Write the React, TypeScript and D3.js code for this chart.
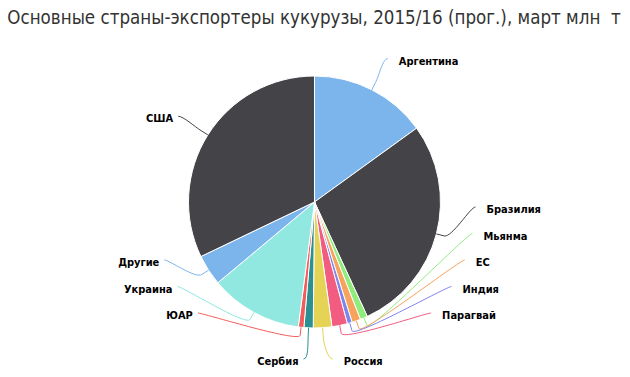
import React from "react";
import * as d3 from "d3";

const countries = ["Аргентина", "Бразилия", "Мьянма", "ЕС", "Индия", "Парагвай", "Россия", "Сербия", "ЮАР", "Украина", "Другие", "США"];
const exportsMt = [19, 35.5, 1.2, 1.4, 0.8, 2.5, 3, 1.5, 0.9, 15, 5, 40.6];
const palette = ["#7cb5ec", "#434348", "#90ed7d", "#f7a35c", "#8085e9", "#f15c80", "#e4d354", "#2b908f", "#f45b5b", "#91e8e1"];
const title = "Основные страны-экспортеры кукурузы, 2015/16 (прог.), март млн  т";

const W = 630;
const H = 377;
const cx = 314.5;
const cy = 202;
const R = 126;
const RL = 161;
const SPACING = 26.5;
const FONT = "'DejaVu Sans Condensed', 'DejaVu Sans', sans-serif";

export default function App() {
  const pie = d3.pie<number>().sort(null).value((d) => d).startAngle(0).endAngle(2 * Math.PI);
  const arcs = pie(exportsMt);
  const arcGen = d3.arc<d3.PieArcDatum<number>>().innerRadius(0).outerRadius(R);

  type Lab = { i: number; mid: number; right: boolean; bottom: boolean; ny: number; x: number; y: number; tx: number; ty: number; bx: number; by: number };
  const labs: Lab[] = arcs.map((a, i) => {
    const mid = (a.startAngle + a.endAngle) / 2;
    const tx = cx + R * Math.sin(mid);
    const ty = cy - R * Math.cos(mid);
    const bx = cx + (R + 8) * Math.sin(mid);
    const by = cy - (R + 8) * Math.cos(mid);
    return {
      i, mid, right: mid < Math.PI,
      bottom: Math.abs(mid - Math.PI) < (5 * Math.PI) / 180,
      ny: cy - RL * Math.cos(mid), x: 0, y: 0, tx, ty, bx, by,
    };
  });

  [true, false].forEach((side) => {
    const group = labs.filter((l) => l.right === side && !l.bottom).sort((a, b) => b.ny - a.ny);
    let limit = cy + 111;
    group.forEach((l) => {
      l.y = Math.min(l.ny, limit);
      limit = l.y - SPACING;
      const dx = Math.sqrt(Math.max(0, RL * RL - (l.y - cy) * (l.y - cy)));
      l.x = side ? cx + dx : cx - dx;
    });
  });
  labs.filter((l) => l.bottom).forEach((l) => {
    l.y = cy + 157;
    l.x = l.tx + (l.right ? 10 : -5);
  });

  const connector = (l: Lab) => {
    const c1x = l.x + (l.right ? -5 : 5);
    const c2x = 2 * l.bx - l.tx;
    const c2y = 2 * l.by - l.ty;
    return `M${l.x},${l.y}C${c1x},${l.y} ${c2x},${c2y} ${l.bx},${l.by}L${l.tx},${l.ty}`;
  };

  return (
    <svg width={W} height={H} style={{ position: "absolute", left: 0, top: 0, background: "#fff" }}>
      <text x={W / 2 - 1} y={24} textAnchor="middle" fill="#333333" fontSize={18.6} fontFamily={FONT} style={{ whiteSpace: "pre" }}>
        {title}
      </text>
      <g>
        {arcs.map((a, i) => (
          <path
            key={i}
            d={arcGen(a) || ""}
            transform={`translate(${cx},${cy})`}
            fill={palette[i % palette.length]}
            stroke="#ffffff"
            strokeWidth={1}
            strokeLinejoin="round"
          />
        ))}
      </g>
      <g>
        {labs.map((l) => (
          <path key={l.i} d={connector(l)} fill="none" stroke={palette[l.i % palette.length]} strokeWidth={1} />
        ))}
      </g>
      <g>
        {labs.map((l) => (
          <text
            key={l.i}
            x={l.right ? l.x + 11 : l.x - 5}
            y={l.y + 6}
            textAnchor={l.right ? "start" : "end"}
            fontSize={11}
            fontWeight="bold"
            fontFamily={FONT}
            fill="#000000"
            stroke="#ffffff"
            strokeWidth={2}
            paintOrder="stroke"
            strokeLinejoin="round"
          >
            {countries[l.i]}
          </text>
        ))}
      </g>
    </svg>
  );
}
